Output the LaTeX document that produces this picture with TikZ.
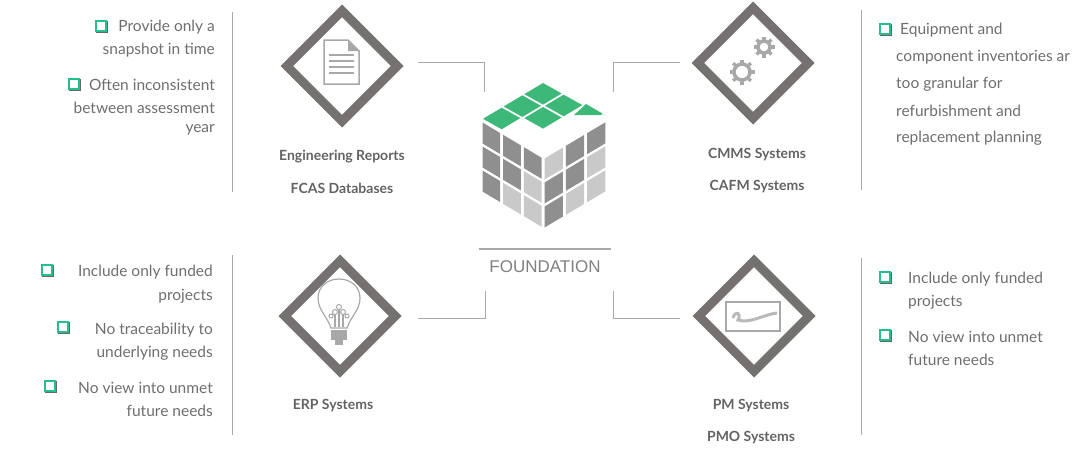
\documentclass[tikz,border=0pt]{standalone}
\usepackage{fontspec}
\setmainfont{Lato}
\newfontfamily\foundfont{Liberation Sans}
\usetikzlibrary{shapes.geometric,calc}
\definecolor{dg}{HTML}{767171}
\definecolor{tg}{HTML}{6E6E6E}
\definecolor{lg}{HTML}{A8A8A8}
\definecolor{gr}{HTML}{3DB878}
\definecolor{cbg}{HTML}{22C08E}
\definecolor{cd}{HTML}{8F8F8F}
\definecolor{cl}{HTML}{C9C9C9}
\tikzset{
 dia/.style={draw=dg,line width=9pt,diamond,minimum width=114pt,minimum height=114pt,inner sep=0},
 vline/.style={draw=lg,line width=1pt},
 conn/.style={draw=lg,line width=0.8pt},
 txt/.style={font=\fontsize{15.5}{23}\selectfont,text=tg,inner sep=0},
 lab/.style={font=\fontsize{14}{16}\selectfont\bfseries,text=tg!90!black,inner sep=0},
 cbx/.style={draw=cbg,line width=1.5pt,minimum size=10pt,inner sep=0},
 icon/.style={draw=lg,line width=1.5pt},
}
\newcommand{\mybox}[2]{\node[cbx] at (#1,#2) {};\draw[black!60,line width=1pt] (#1-5,#2+6.5)--(#1+6.5,#2+6.5)--(#1+6.5,#2-5);}
\begin{document}
\begin{tikzpicture}[x=1pt,y=-1pt]
\useasboundingbox (0,0) rectangle (1078,458);
\draw[vline] (232,12)--(232,192);
\draw[vline] (861,10)--(861,190);
\draw[vline] (232,255)--(232,435);
\draw[vline] (861,258)--(861,435);
\node[dia] (d1) at (342,66) {};
\node[dia] (d2) at (753,63) {};
\node[dia] (d3) at (340,316) {};
\node[dia] (d4) at (754,316) {};
\coordinate (c1) at (484,92);
\coordinate (c2) at (613,92);
\coordinate (c3) at (485,291);
\coordinate (c4) at (613,291);
\coordinate (e1) at (418,62);
\coordinate (e2) at (680,62);
\coordinate (e3) at (418,318);
\coordinate (e4) at (680,318);
\draw[conn] (e1) -- (484,62) -- (c1);
\draw[conn] (c2) -- (613,62) -- (e2);
\draw[conn] (c3) -- (485,318) -- (e3);
\draw[conn] (c4) -- (613,318) -- (e4);
% cube top face
\foreach \a/\b in {0/0,1/0,0/1,2/0,1/1}{
 \fill[gr] ($(543,81)+\a/3*(-62,37)+\b/3*(62,35)+(0,2)$) -- ++(-18.67,11.13) -- ++(18.67,10.47) -- ++(18.67,-11.13) -- cycle;
}
\fill[gr] (586,104) -- (605,115) -- (574,115) -- cycle;
% left face
\foreach \r/\c/\col in {0/0/cd,0/1/cd,0/2/cd,1/0/cd,1/1/cd,1/2/cl,2/0/cd,2/1/cl,2/2/cl}{
 \fill[\col] ($(481,121)+\c*(20.67,12.33)+\r*(0,24)+(1.5,1.5)$) -- ++(17.67,10.53) -- ++(0,21) -- ++(-17.67,-10.53) -- cycle;
}
% right face
\foreach \r/\c/\col in {0/0/cl,0/1/cd,0/2/cd,1/0/cd,1/1/cd,1/2/cl,2/0/cd,2/1/cl,2/2/cl}{
 \fill[\col] ($(543,158)+\c*(21.33,-12.67)+\r*(0,24)+(1.5,0.5)$) -- ++(18.33,-10.9) -- ++(0,21) -- ++(-18.33,10.9) -- cycle;
}
\draw[white,line width=1.5pt] (588,131)--(605,112);
\draw[lg,line width=1.2pt] (479,249)--(611,249);
\node[font=\foundfont\fontsize{17}{19}\selectfont,text=black!50,inner sep=0] (found) at (545,267) {FOUNDATION};
% document icon
\draw[icon,fill=white] (324,40)--(348,40)--(359,51)--(359,84)--(324,84)--cycle;
\fill[lg] (348,40)--(359,51)--(348,51)--cycle;
\foreach \y in {55,61,67,73}{\draw[icon,line width=1.5pt] (329,\y)--(354,\y);}
% gears
\foreach \x/\y/\r in {742/72/8,764/47/6}{
 \draw[lg,line width=3.5pt] (\x,\y) circle (\r);
 \foreach \k in {0,45,...,315}{\draw[lg,line width=3.5pt] ($(\x,\y)+(\k:\r)$)--($(\x,\y)+(\k:\r+4.5)$);}
}
% bulb
\draw[icon,line width=1.2pt] (331,328) .. controls (327,316) and (318,310) .. (318,298) .. controls (318,287) and (327,279) .. (339,279) .. controls (351,279) and (360,287) .. (360,298) .. controls (360,310) and (351,316) .. (347,328) -- cycle;
\draw[icon,line width=1.2pt] (335,327)--(335,314) (339,327)--(339,309) (343,327)--(343,314);
\draw[icon,line width=1pt] (335,312) circle (2.5) (339,307) circle (2.5) (343,312) circle (2.5) (331,316) circle (2) (347,316) circle (2);
\fill[lg] (331,330) rectangle (347,340);
\fill[lg] (335,340) rectangle (343,345);
% PM icon
\draw[icon,line width=1.5pt] (726,302) rectangle (780,331);
\draw[lg!80,line width=3pt] (733,318) .. controls (735,310) and (742,313) .. (738,320) .. controls (750,324) and (765,314) .. (777,313);
% labels
\node[lab] (l1a) at (342,157) {Engineering Reports};
\node[lab] (l1b) at (342,188) {FCAS Databases};
\node[lab] (l2a) at (757,155) {CMMS Systems};
\node[lab] (l2b) at (757,187) {CAFM Systems};
\node[lab] (l3) at (333,406) {ERP Systems};
\node[lab] (l4a) at (751,406) {PM Systems};
\node[lab] (l4b) at (751,438) {PMO Systems};
% texts top-left
\node[txt,anchor=east] at (215,27) {Provide only a};
\node[txt,anchor=east] at (215,50) {snapshot in time};
\node[txt,anchor=east] at (215,85) {Often inconsistent};
\node[txt,anchor=east] at (215,108) {between assessment};
\node[txt,anchor=east] at (215,130) {year};
\mybox{101}{26}\mybox{74}{84}
% bottom-left
\node[txt,anchor=east] at (213,272) {Include only funded};
\node[txt,anchor=east] at (213,296) {projects};
\node[txt,anchor=east] at (213,330) {No traceability to};
\node[txt,anchor=east] at (213,353) {underlying needs};
\node[txt,anchor=east] at (213,388) {No view into unmet};
\node[txt,anchor=east] at (213,411) {future needs};
\mybox{47}{270}\mybox{63}{327}\mybox{50}{386}
% top-right
\node[txt,anchor=west] at (900,30) {Equipment and};
\node[txt,anchor=west] at (896,57) {component inventories ar};
\node[txt,anchor=west] at (896,84) {too granular for};
\node[txt,anchor=west] at (896,111) {refurbishment and};
\node[txt,anchor=west] at (896,138) {replacement planning};
\mybox{885}{29}
% bottom-right
\node[txt,anchor=west] at (908,279) {Include only funded};
\node[txt,anchor=west] at (908,302) {projects};
\node[txt,anchor=west] at (908,337) {No view into unmet};
\node[txt,anchor=west] at (908,360) {future needs};
\mybox{885}{277}\mybox{885}{335}
\end{tikzpicture}
\end{document}
